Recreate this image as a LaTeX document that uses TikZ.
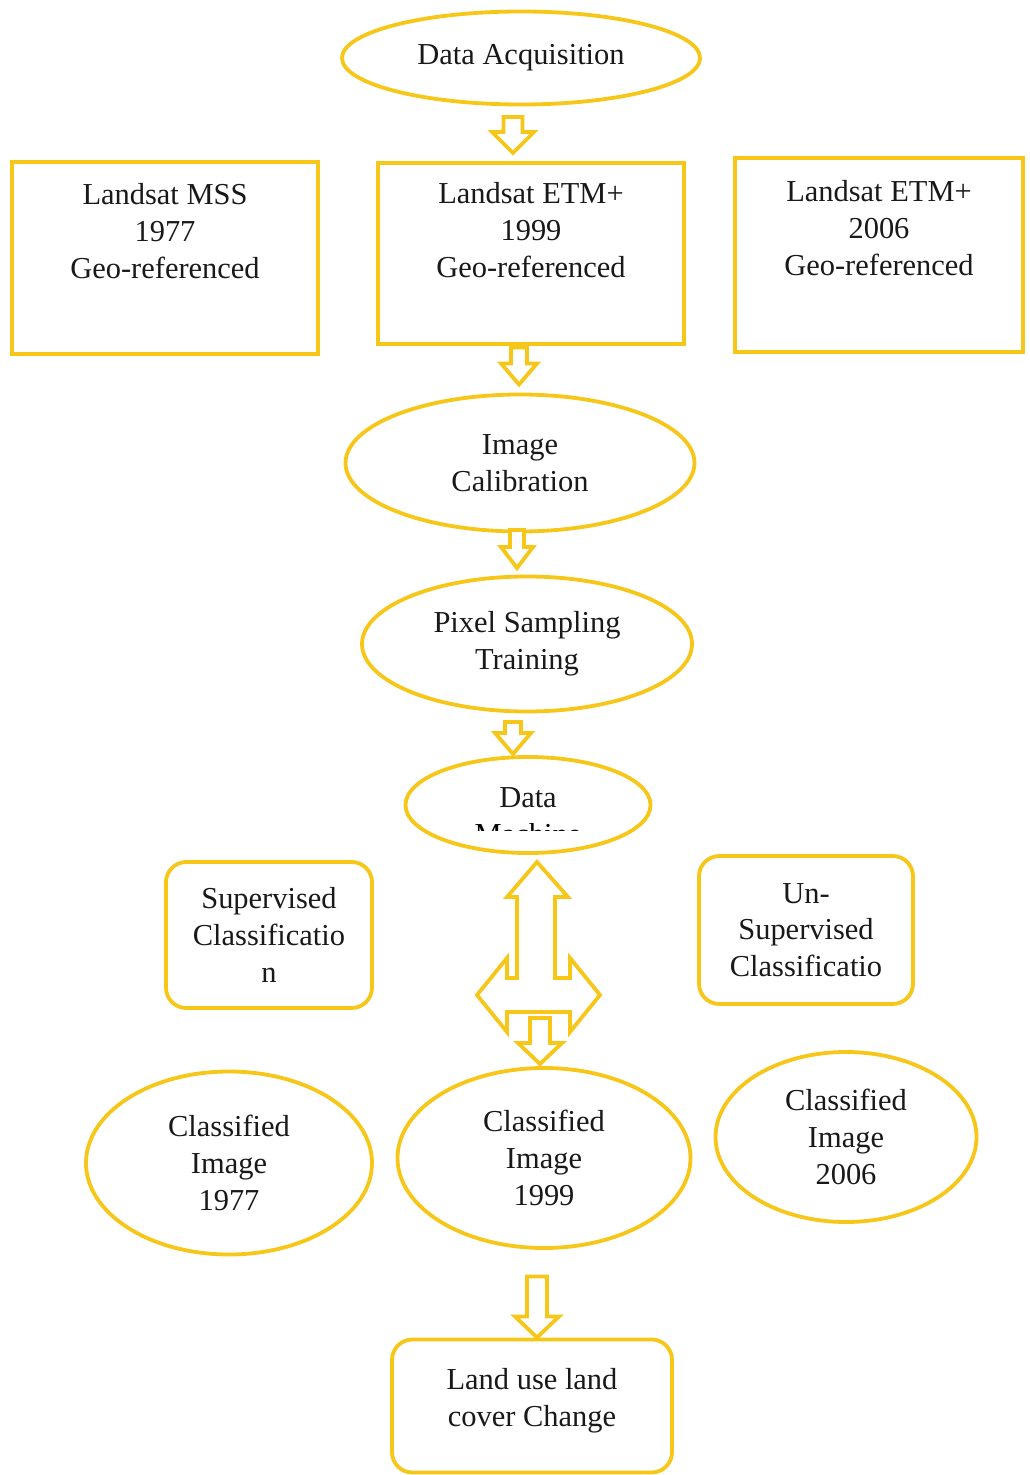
\documentclass[12pt,tikz,border=0pt]{standalone}
\usepackage{fontspec}
\setmainfont{Liberation Serif}
\usepackage{tikz}
\usetikzlibrary{shapes.geometric}

\newlength{\px}
\setlength{\px}{0.394pt}
\definecolor{boxgold}{RGB}{246,198,24}

\tikzset{
  pics/downarr/.style 2 args={code={
    \draw[arrowline] (-#2,-#1/2) -- (#2,-#1/2) -- (#2,#1/2-21) -- (2*#2+2,#1/2-21)
      -- (0,#1/2) -- (-2*#2-2,#1/2-21) -- (-#2,#1/2-21) -- cycle;
  }}
}

\begin{document}
\begin{tikzpicture}[x=0.394pt, y=-0.394pt]
    \tikzstyle{ellnode} = [ellipse, draw=boxgold, line width=1.5pt, inner sep=0pt, align=center, text=black!90]
    \tikzstyle{sqbox} = [rectangle, draw=boxgold, line width=1.5pt, inner sep=0pt, align=center, text=black!90]
    \tikzstyle{rndbox} = [sqbox, rounded corners=8pt]
    \tikzstyle{arrowline} = [draw=boxgold, line width=1.5pt, line join=miter, fill=white]

    \useasboundingbox (0,0) rectangle (1029,1475);

    % Acquisition
    \node[ellnode, minimum width=358*\px, minimum height=93*\px] (acq) at (521,58) {Data Acquisition};
    \pic at (513,135) {downarr={36}{9.5}};

    % Images
    \node[sqbox, minimum width=306*\px, minimum height=192*\px] (mss) at (165,258) {Landsat MSS\\1977\\Geo-referenced\\[7pt]};
    \node[sqbox, minimum width=306*\px, minimum height=181*\px] (etm99) at (531,253.5) {Landsat ETM+\\1999\\Geo-referenced\\[4pt]};
    \node[sqbox, minimum width=288*\px, minimum height=194*\px] (etm06) at (879,255) {Landsat ETM+\\2006\\Geo-referenced\\[7pt]};
    \pic at (519,366) {downarr={37}{8}};

    % Processing
    \node[ellnode, minimum width=349*\px, minimum height=137*\px] (cal) at (520,463) {Image\\Calibration};
    \pic at (517,549) {downarr={38}{7}};
    \node[ellnode, minimum width=330*\px, minimum height=135*\px] (pix) at (527,644) {Pixel Sampling\\Training};
    \pic at (513,738) {downarr={32}{8}};
    \node[ellnode, minimum width=245*\px, minimum height=96*\px] (dm) at (528,805) {Data\\[-9pt]};
    \begin{scope}
        \clip (420,823) rectangle (640,830);
        \node (dmcut) at (528,834) {Machine};
    \end{scope}

    % Classification
    \node[rndbox, minimum width=206*\px, minimum height=146*\px] (sup) at (269,935) {Supervised\\Classificatio\\n};
    \node[rndbox, minimum width=214*\px, minimum height=148*\px] (unsup) at (806,930) {Un-\\Supervised\\Classificatio};
    \draw[arrowline] (537,862) -- (568,897) -- (555,897) -- (555,978) -- (570,978) -- (570,958)
        -- (600,995) -- (570,1032) -- (570,1012) -- (507,1012) -- (507,1032) -- (477,995)
        -- (507,958) -- (507,978) -- (517,978) -- (517,897) -- (507,897) -- cycle;
    \pic at (540,1041) {downarr={46}{10}};

    % Results
    \node[ellnode, minimum width=286*\px, minimum height=183*\px] (c77) at (229,1163) {Classified\\Image\\1977};
    \node[ellnode, minimum width=293*\px, minimum height=180*\px] (c99) at (544,1158) {Classified\\Image\\1999};
    \node[ellnode, minimum width=261*\px, minimum height=170*\px] (c06) at (846,1137) {Classified\\Image\\2006};
    \pic at (537,1307) {downarr={61}{10}};
    \node[rndbox, minimum width=280*\px, minimum height=133*\px] (lulc) at (532,1406) {Land use land\\cover Change\\[-7.5pt]};

\end{tikzpicture}
\end{document}
